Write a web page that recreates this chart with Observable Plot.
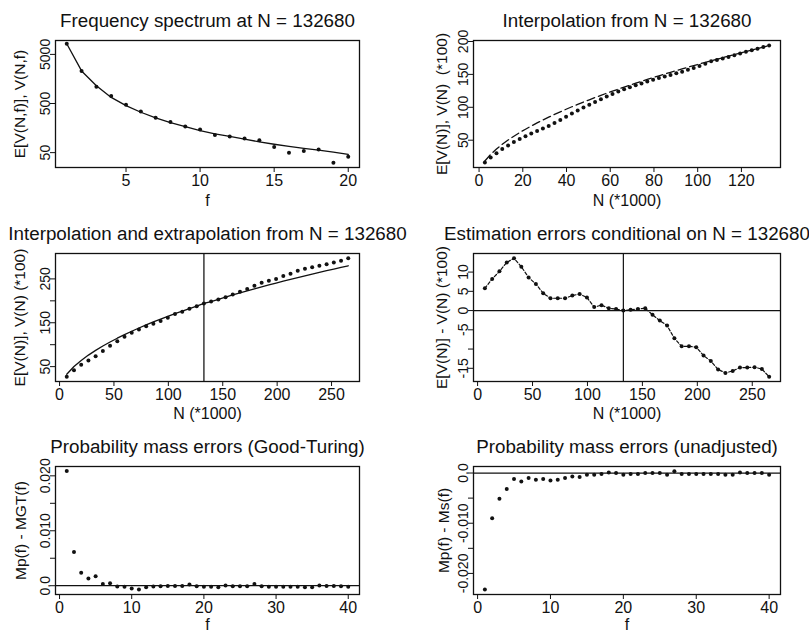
<!DOCTYPE html>
<html><head><meta charset="utf-8">
<script src="https://cdn.jsdelivr.net/npm/d3@7"></script>
<script src="https://cdn.jsdelivr.net/npm/@observablehq/plot@0.6"></script>
<style>
body{margin:0;background:#fff;}
#wrap{position:relative;width:809px;height:634px;overflow:hidden;background:#fff;}
#wrap svg{position:absolute;overflow:visible;}
</style></head><body><div id="wrap"></div>
<script>
// ---- Panel 1: frequency spectrum at N = 132680 ----
const spectrumF = [1,2,3,4,5,6,7,8,9,10,11,12,13,14,15,16,17,18,19,20];
const spectrumObserved = [8215,2303,1094,708,474,342,255,211,170,148,114,107,97,89,65,50,54,58,31,41];
const spectrumExpected = [8215,2303,1146,666,452,332,255,205,170,141,121,107,94,83,74,67,61,56,51,46];

// ---- Panel 2: interpolation (N in thousands, V in hundreds) ----
const interpN = [2.65,5.31,7.96,10.61,13.27,15.92,18.58,21.23,23.88,26.54,29.19,31.84,34.5,37.15,39.8,42.46,45.11,47.76,50.42,53.07,55.73,58.38,61.03,63.69,66.34,68.99,71.65,74.3,76.95,79.61,82.26,84.92,87.57,90.22,92.88,95.53,98.18,100.84,103.49,106.14,108.8,111.45,114.1,116.76,119.41,122.07,124.72,127.37,130.03,132.68];
const interpExpected = [18.3,28.4,36.6,43.8,50.2,56.1,61.6,66.7,71.6,76.3,80.7,85.0,89.2,93.1,97.0,100.8,104.4,108.0,111.4,114.8,118.1,121.4,124.5,127.6,130.7,133.7,136.6,139.5,142.4,145.1,147.9,150.5,153.2,155.8,158.4,160.9,163.4,165.9,168.3,170.7,173.0,175.4,177.7,180.0,182.3,184.8,187.0,189.3,191.6,194.0];
const interpObserved = [16.0,23.8,30.3,36.6,42.0,47.1,51.8,56.0,60.0,63.8,67.8,71.6,76.0,80.8,85.6,90.5,95.2,99.7,103.8,107.9,112.2,116.4,120.3,123.9,127.5,130.5,133.4,136.3,139.2,141.9,144.4,146.7,149.2,151.7,154.1,157.0,159.8,162.8,166.3,169.8,171.9,174.1,176.5,179.1,181.7,184.3,186.6,189.0,191.5,194.0];

// ---- Panels 3 & 4: interpolation and extrapolation ----
const extrapN = [6.63,13.27,19.9,26.54,33.17,39.8,46.44,53.07,59.71,66.34,72.97,79.61,86.24,92.88,99.51,106.14,112.78,119.41,126.05,132.68,139.31,145.95,152.58,159.22,165.85,172.48,179.12,185.75,192.39,199.02,205.65,212.29,218.92,225.56,232.19,238.82,245.46,252.09,258.73,265.36];
const extrapExpected = [32.7,50.2,64.2,76.3,87.1,97.0,106.2,114.8,122.9,130.7,138.1,145.1,151.9,158.4,164.7,170.7,176.6,182.3,187.8,194.0,198.4,203.5,208.5,213.4,218.1,222.8,227.3,231.8,236.2,240.5,244.7,248.9,253.0,257.0,261.0,264.9,268.7,272.5,276.2,279.9];
const extrapObserved = [26.9,42.0,54.0,63.8,73.5,85.6,97.6,107.9,118.4,127.5,134.9,141.9,148.0,154.1,161.3,169.8,175.2,181.7,187.4,194.0,198.2,203.1,207.9,214.5,220.7,226.7,234.5,241.1,245.5,250.0,256.4,262.0,268.3,273.2,276.7,279.7,283.5,287.2,291.4,297.1];
const extrapError = [5.8,8.2,10.2,12.5,13.6,11.4,8.6,6.9,4.5,3.2,3.2,3.2,3.9,4.3,3.4,0.9,1.4,0.6,0.4,0,0.2,0.4,0.6,-1.1,-2.6,-3.9,-7.2,-9.3,-9.3,-9.5,-11.7,-13.1,-15.3,-16.2,-15.7,-14.8,-14.8,-14.7,-15.2,-17.2];
const sampleN = [132.68];

// ---- Panels 5 & 6: probability mass errors ----
const massF = [1,2,3,4,5,6,7,8,9,10,11,12,13,14,15,16,17,18,19,20,21,22,23,24,25,26,27,28,29,30,31,32,33,34,35,36,37,38,39,40];
const massErrGT = [0.02088,0.00615,0.00236,0.00131,0.00174,0.00033,0.00046,-0.00015,-0.0002,-0.00052,-0.0007,-0.00027,-0.00015,-0.0001,-0.00003,-0.00003,-0.00003,0.00022,-0.0001,-0.0002,-0.0002,-0.0003,0.00006,-0.0001,-0.0001,-0.0001,0.00033,-0.0001,-0.0002,-0.0002,-0.0002,-0.0002,-0.0002,-0.0003,-0.0003,0.00006,-0.00003,-0.00003,-0.0001,-0.0002];
const massErrUnadj = [-0.0232,-0.009,-0.00514,-0.0032,-0.0012,-0.00168,-0.001,-0.00134,-0.0012,-0.00148,-0.00134,-0.001,-0.00068,-0.0008,-0.00034,-0.00034,-0.0002,0.00012,0,-0.00034,-0.0002,-0.0002,0,0,0,-0.00034,0.00034,-0.0002,-0.0002,-0.0002,-0.0002,-0.0002,-0.0002,-0.00034,-0.00034,0.00012,0,0,0,-0.00034];

// ---- tick values and labels ----
const ticksF20 = [5,10,15,20];
const ticksSpectrumY = [50,500,5000];
const labelsSpectrumY = ["50","500","5000"];
const ticksN1 = [0,20,40,60,80,100,120];
const ticksV1 = [50,100,150,200];
const labelsV1 = ["50","100","150","200"];
const ticksN2 = [0,50,100,150,200,250];
const ticksV2 = [50,100,150,200,250];
const labelsV2 = ["50","","150","","250"];
const ticksErr = [10,5,0,-5,-10,-15];
const labelsErr = ["10","5","0","-5","","-15"];
const ticksF40 = [0,10,20,30,40];
const ticksGT = [0,0.005,0.01,0.015,0.02];
const labelsGT = ["0.0","","0.010","","0.020"];
const ticksUn = [0,-0.005,-0.01,-0.015,-0.02];
const labelsUn = ["0.0","","-0.010","","-0.020"];

const FONT = "'Liberation Sans', Arial, Helvetica, sans-serif";
const INK = "#111";
const wrap = document.getElementById("wrap");

function lab(ticks, labels) {
  const m = new Map(ticks.map((t, i) => [t, labels[i]]));
  return d => m.get(d) ?? "";
}

function panel(o) {
  const svg = Plot.plot({
    width: o.w, height: o.h,
    marginLeft: o.fx0 - o.left, marginRight: o.left + o.w - o.fx1,
    marginTop: o.fy0 - o.top, marginBottom: o.top + o.h - o.fy1,
    style: {fontFamily: FONT, color: INK, background: "transparent", overflow: "visible"},
    x: {domain: o.xdom},
    y: {domain: o.ydom, type: o.ylog ? "log" : "linear"},
    marks: [
      Plot.axisX({ticks: o.xticks, tickSize: 5, tickPadding: 2, fontSize: 16, label: null, text: d => String(d), stroke: INK}),
      Plot.axisY({ticks: o.yticks, tickSize: 5, tickPadding: 1, tickRotate: -90, fontSize: 14, label: null, text: o.yfmt, stroke: INK}),
      ...o.marks,
      Plot.frame({stroke: INK, strokeWidth: 1.3}),
      Plot.text([o.title], {frameAnchor: "top", lineAnchor: "middle", textAnchor: "middle", dy: -20, fontSize: 18.8, text: d => d, fill: INK}),
      Plot.text([o.xlab], {frameAnchor: "bottom", lineAnchor: "middle", textAnchor: "middle", dy: o.xlabOff, fontSize: 16, text: d => d, fill: INK}),
      Plot.text([o.ylab], {frameAnchor: "left", lineAnchor: "middle", textAnchor: "middle", dx: -o.ylabOff, rotate: -90, fontSize: 15.5, text: d => d, fill: INK})
    ]
  });
  svg.style.left = o.left + "px";
  svg.style.top = o.top + "px";
  wrap.appendChild(svg);
}

const L = {left: 0, w: 404, fx0: 55, fx1: 359};
const R = {left: 404, w: 405, fx0: 473, fx1: 780};
const R1 = {top: 0, h: 211, fy0: 40, fy1: 167, xlabOff: 33};
const R2 = {top: 211, h: 211, fy0: 253, fy1: 381, xlabOff: 32};
const R3 = {top: 422, h: 212, fy0: 466, fy1: 594, xlabOff: 30};
const dotOpt = {r: 2, fill: INK, stroke: null};

panel({...L, ...R1,
  xdom: [0.24, 20.76], ydom: [24.9, 9590], ylog: true,
  xticks: ticksF20, yticks: ticksSpectrumY, yfmt: lab(ticksSpectrumY, labelsSpectrumY),
  title: "Frequency spectrum at N = 132680", xlab: "f", ylab: "E[V(N,f)], V(N,f)", ylabOff: 35,
  marks: [
    Plot.line(spectrumF, {x: spectrumF, y: spectrumExpected, stroke: INK, strokeWidth: 1.3}),
    Plot.dot(spectrumF, {x: spectrumF, y: spectrumObserved, ...dotOpt})
  ]});

panel({...R, ...R1,
  xdom: [-2.55, 137.88], ydom: [8.5, 201.5],
  xticks: ticksN1, yticks: ticksV1, yfmt: lab(ticksV1, labelsV1),
  title: "Interpolation from N = 132680", xlab: "N (*1000)", ylab: "E[V(N)], V(N)  (*100)", ylabOff: 31,
  marks: [
    Plot.line(interpN, {x: interpN, y: interpExpected, stroke: INK, strokeWidth: 1.3, strokeDasharray: "8,4"}),
    Plot.dot(interpN, {x: interpN, y: interpObserved, ...dotOpt})
  ]});

panel({...L, ...R2,
  xdom: [-3.72, 275.7], ydom: [16.1, 307.9],
  xticks: ticksN2, yticks: ticksV2, yfmt: lab(ticksV2, labelsV2),
  title: "Interpolation and extrapolation from N = 132680", xlab: "N (*1000)", ylab: "E[V(N)], V(N) (*100)", ylabOff: 35,
  marks: [
    Plot.ruleX(sampleN, {x: d => d, stroke: "#444", strokeWidth: 1.6}),
    Plot.line(extrapN, {x: extrapN, y: extrapExpected, stroke: INK, strokeWidth: 1.3}),
    Plot.dot(extrapN, {x: extrapN, y: extrapObserved, ...dotOpt})
  ]});

panel({...R, ...R2,
  xdom: [-3.72, 275.7], ydom: [-18.43, 14.83],
  xticks: ticksN2, yticks: ticksErr, yfmt: lab(ticksErr, labelsErr),
  title: "Estimation errors conditional on N = 132680", xlab: "N (*1000)", ylab: "E[V(N)] - V(N) (*100)", ylabOff: 31,
  marks: [
    Plot.ruleX(sampleN, {x: d => d, stroke: INK, strokeWidth: 1.2}),
    Plot.ruleY([0], {stroke: INK, strokeWidth: 1.2}),
    Plot.line(extrapN, {x: extrapN, y: extrapError, stroke: INK, strokeWidth: 1.2, strokeDasharray: "3,2"}),
    Plot.dot(extrapN, {x: extrapN, y: extrapError, ...dotOpt})
  ]});

panel({...L, ...R3,
  xdom: [-0.56, 41.56], ydom: [-0.0016, 0.0217],
  xticks: ticksF40, yticks: ticksGT, yfmt: lab(ticksGT, labelsGT),
  title: "Probability mass errors (Good-Turing)", xlab: "f", ylab: "Mp(f) - MGT(f)", ylabOff: 34,
  marks: [
    Plot.ruleY([0], {stroke: INK, strokeWidth: 1.2}),
    Plot.dot(massF, {x: massF, y: massErrGT, ...dotOpt})
  ]});

panel({...R, ...R3,
  xdom: [-0.56, 41.56], ydom: [-0.0242, 0.0013],
  xticks: ticksF40, yticks: ticksUn, yfmt: lab(ticksUn, labelsUn),
  title: "Probability mass errors (unadjusted)", xlab: "f", ylab: "Mp(f) - Ms(f)", ylabOff: 29,
  marks: [
    Plot.ruleY([0], {stroke: INK, strokeWidth: 1.2}),
    Plot.dot(massF, {x: massF, y: massErrUnadj, ...dotOpt})
  ]});
</script>
</body></html>
